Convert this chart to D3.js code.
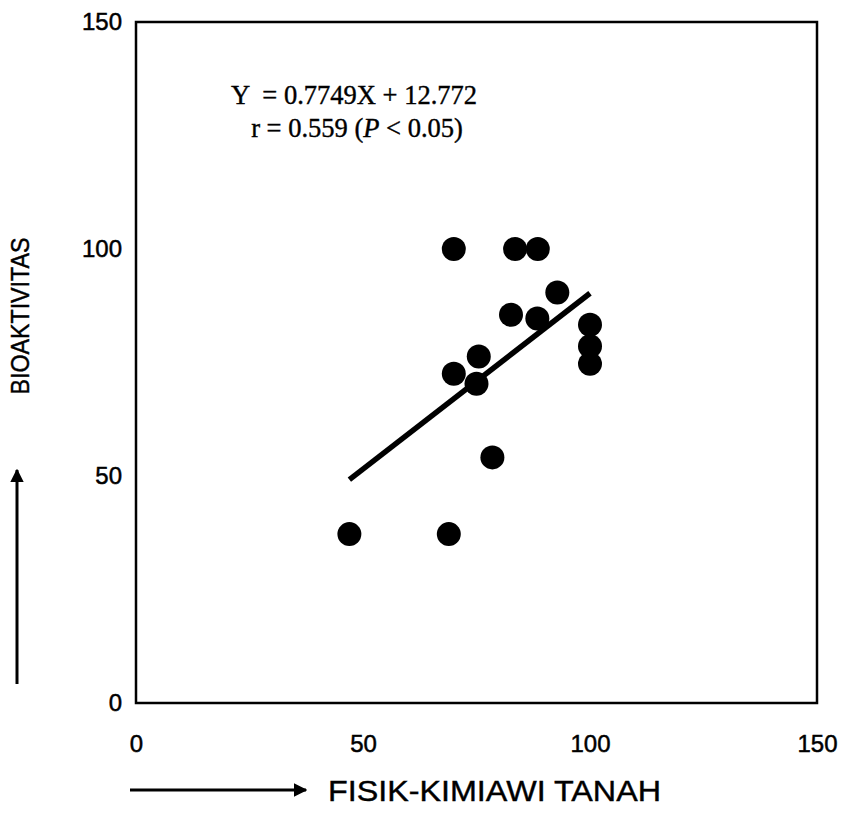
<!DOCTYPE html>
<html><head><meta charset="utf-8">
<script src="https://cdn.jsdelivr.net/npm/d3@7"></script>
<style>body{margin:0;background:#fff}</style>
</head><body>
<script>
const xValues = [70, 83.5, 88.5, 92.8, 82.6, 88.4, 100, 100, 100, 75.5, 70, 75, 78.5, 47, 68.9];
const yValues = [100, 100, 100, 90.4, 85.5, 84.7, 83.3, 78.6, 74.7, 76.3, 72.5, 70.3, 54.1, 37.2, 37.2];
const xTicks = [0, 50, 100, 150];
const yTicks = [0, 50, 100, 150];
const slope = 0.7749, intercept = 12.772;
const fitRange = [47, 100];
const eqLine1 = "Y  = 0.7749X + 12.772";
const xTitle = "FISIK-KIMIAWI TANAH";
const yTitle = "BIOAKTIVITAS";

const W = 842, H = 826;
const svg = d3.select("body").append("svg").attr("width", W).attr("height", H);
const m = {l:136, r:817, t:22, b:703};
const x = d3.scaleLinear().domain([0,150]).range([m.l, m.r]);
const y = d3.scaleLinear().domain([0,150]).range([m.b, m.t]);
const sans = "Liberation Sans, Arial, sans-serif";
const serif = "Liberation Serif, Times New Roman, serif";

svg.append("rect").attr("x", m.l).attr("y", m.t).attr("width", m.r-m.l).attr("height", m.b-m.t)
  .attr("fill","none").attr("stroke","#000").attr("stroke-width",2.5);

const xa = svg.append("g").attr("transform",`translate(0,${m.b})`)
  .call(d3.axisBottom(x).tickValues(xTicks).tickSize(0).tickPadding(32));
xa.select(".domain").remove();
xa.selectAll("text").attr("font-family",sans).attr("font-size",24).attr("fill","#000")
  .attr("stroke","#000").attr("stroke-width",0.5);

const ya = svg.append("g").attr("transform",`translate(${m.l},0)`)
  .call(d3.axisLeft(y).tickValues(yTicks).tickSize(0).tickPadding(14));
ya.select(".domain").remove();
ya.selectAll("text").attr("font-family",sans).attr("font-size",24).attr("fill","#000")
  .attr("stroke","#000").attr("stroke-width",0.5);

// fit line
svg.append("line")
  .attr("x1", x(fitRange[0])).attr("y1", y(slope*fitRange[0]+intercept))
  .attr("x2", x(fitRange[1])).attr("y2", y(slope*fitRange[1]+intercept))
  .attr("stroke","#000").attr("stroke-width",5.5);

svg.selectAll("circle.pt").data(xValues.map((v,i)=>[v,yValues[i]])).enter()
  .append("circle").attr("class","pt")
  .attr("cx", d=>x(d[0])).attr("cy", d=>y(d[1])).attr("r", 12).attr("fill","#000");

// equation
svg.append("text").attr("x", 354).attr("y", 104).attr("text-anchor","middle")
  .attr("font-family", serif).attr("font-size", 26.5).attr("stroke","#000").attr("stroke-width",0.4)
  .style("white-space","pre").text(eqLine1);
const t2 = svg.append("text").attr("x", 357).attr("y", 137).attr("text-anchor","middle")
  .attr("font-family", serif).attr("font-size", 26.5).attr("stroke","#000").attr("stroke-width",0.4);
t2.append("tspan").text("r = 0.559 (");
t2.append("tspan").attr("font-style","italic").text("P");
t2.append("tspan").text(" < 0.05)");

// axis titles
svg.append("text").attr("transform","translate(29,316) rotate(-90)").attr("text-anchor","middle")
  .attr("font-family", sans).attr("font-size", 25).attr("stroke","#000").attr("stroke-width",0.4)
  .attr("textLength", 157).attr("lengthAdjust","spacingAndGlyphs").text(yTitle);
svg.append("text").attr("x", 328).attr("y", 801)
  .attr("font-family", sans).attr("font-size", 29).attr("stroke","#000").attr("stroke-width",0.4)
  .attr("textLength", 333).attr("lengthAdjust","spacingAndGlyphs").text(xTitle);

// arrows
const defs = svg.append("defs");
defs.append("marker").attr("id","ah").attr("viewBox","0 0 10 10").attr("refX",9).attr("refY",5)
  .attr("markerWidth",4.5).attr("markerHeight",4.5).attr("markerUnits","strokeWidth").attr("orient","auto")
  .append("path").attr("d","M0,0 L10,5 L0,10 z").attr("fill","#000");
svg.append("line").attr("x1",17).attr("y1",684).attr("x2",17).attr("y2",470)
  .attr("stroke","#000").attr("stroke-width",3).attr("marker-end","url(#ah)");
svg.append("line").attr("x1",130).attr("y1",790).attr("x2",306).attr("y2",790)
  .attr("stroke","#000").attr("stroke-width",3).attr("marker-end","url(#ah)");
</script>
</body></html>
